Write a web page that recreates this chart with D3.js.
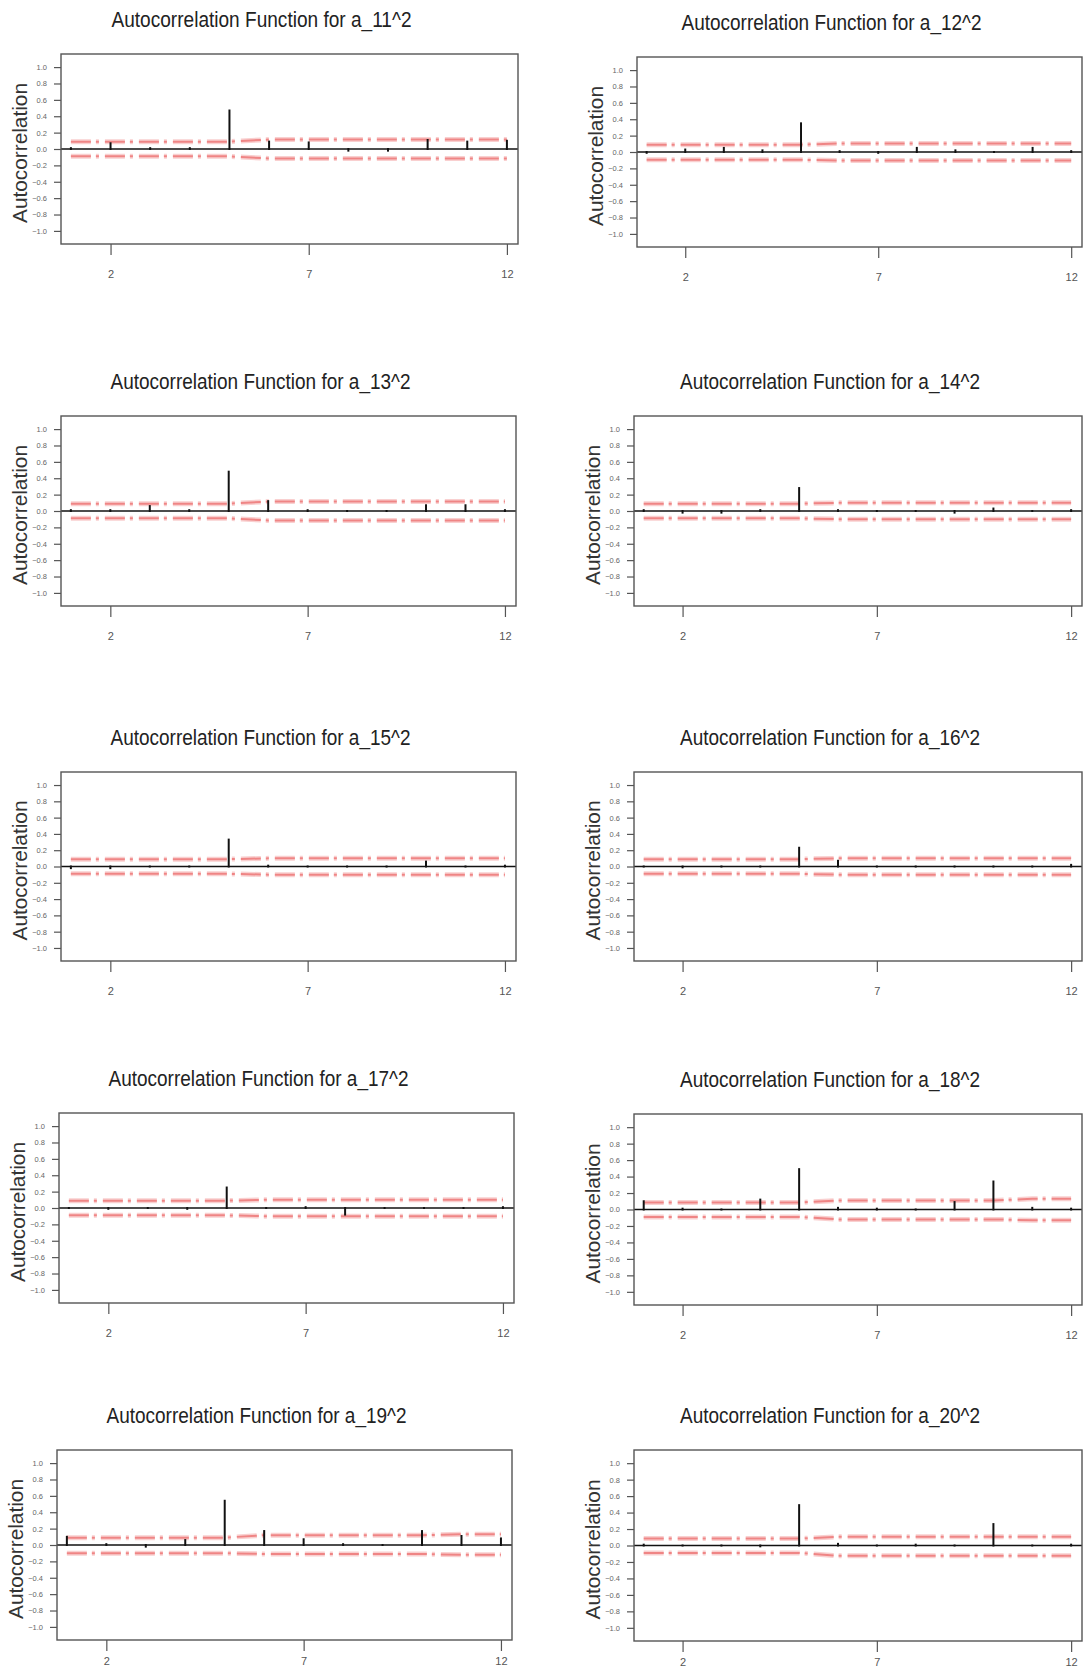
<!DOCTYPE html>
<html>
<head>
<meta charset="utf-8">
<script src="https://cdn.jsdelivr.net/npm/d3@7"></script>
<style>
  body { margin: 0; background: #fff; }
  svg { display: block; }
</style>
</head>
<body>
<script>
// lags and ticks
const lags = [1, 2, 3, 4, 5, 6, 7, 8, 9, 10, 11, 12]
const xTicks = [2, 7, 12]
const yTicks = [-1.0, -0.8, -0.6, -0.4, -0.2, 0.0, 0.2, 0.4, 0.6, 0.8, 1.0]
const seriesNames = ['a_11^2', 'a_12^2', 'a_13^2', 'a_14^2', 'a_15^2',
  'a_16^2', 'a_17^2', 'a_18^2', 'a_19^2', 'a_20^2']

// autocorrelations, lag 1..12
const acf11 = [0.01, 0.07, 0.01, 0.01, 0.47, 0.09, 0.08, -0.02, -0.02, 0.11, 0.09, 0.10]
const acf12 = [-0.01, 0.03, 0.05, 0.02, 0.35, 0.01, -0.01, 0.05, 0.02, 0.00, 0.05, 0.01]
const acf13 = [0.01, 0.01, 0.06, 0.01, 0.48, 0.12, 0.01, 0.00, 0.00, 0.07, 0.07, 0.01]
const acf14 = [0.01, -0.02, -0.02, 0.01, 0.28, 0.01, 0.00, 0.00, -0.02, 0.03, 0.00, 0.01]
const acf15 = [-0.02, -0.02, 0.00, 0.00, 0.33, 0.01, 0.00, 0.00, 0.00, 0.06, 0.00, 0.01]
const acf16 = [0.00, -0.01, 0.00, 0.00, 0.23, 0.07, 0.00, 0.00, 0.00, 0.00, 0.00, 0.02]
const acf17 = [0.00, -0.01, 0.00, -0.01, 0.25, 0.00, 0.01, -0.08, 0.00, 0.00, 0.00, 0.01]
const acf18 = [0.10, 0.01, 0.00, 0.12, 0.49, 0.02, 0.01, 0.00, 0.09, 0.34, 0.02, 0.01]
const acf19 = [0.10, 0.01, -0.02, 0.06, 0.54, 0.17, 0.07, 0.01, 0.00, 0.17, 0.11, 0.08]
const acf20 = [0.01, 0.00, 0.00, -0.01, 0.49, 0.02, 0.00, 0.01, 0.00, 0.26, 0.00, 0.01]

// upper / lower confidence bands per lag
const up11 = [0.09, 0.09, 0.09, 0.09, 0.09, 0.115, 0.115, 0.115, 0.115, 0.115, 0.115, 0.115]
const lo11 = [-0.09, -0.09, -0.09, -0.09, -0.09, -0.115, -0.115, -0.115, -0.115, -0.115, -0.115, -0.115]
const up12 = [0.09, 0.09, 0.09, 0.09, 0.09, 0.105, 0.105, 0.105, 0.105, 0.105, 0.105, 0.105]
const lo12 = [-0.095, -0.095, -0.095, -0.095, -0.095, -0.105, -0.105, -0.105, -0.105, -0.105, -0.105, -0.105]
const up13 = [0.09, 0.09, 0.09, 0.09, 0.09, 0.115, 0.115, 0.115, 0.115, 0.115, 0.115, 0.115]
const lo13 = [-0.09, -0.09, -0.09, -0.09, -0.09, -0.115, -0.115, -0.115, -0.115, -0.115, -0.115, -0.115]
const up14 = [0.09, 0.09, 0.09, 0.09, 0.09, 0.10, 0.10, 0.10, 0.10, 0.10, 0.10, 0.10]
const lo14 = [-0.09, -0.09, -0.09, -0.09, -0.09, -0.10, -0.10, -0.10, -0.10, -0.10, -0.10, -0.10]
const up15 = [0.09, 0.09, 0.09, 0.09, 0.09, 0.10, 0.10, 0.10, 0.10, 0.10, 0.10, 0.10]
const lo15 = [-0.09, -0.09, -0.09, -0.09, -0.09, -0.10, -0.10, -0.10, -0.10, -0.10, -0.10, -0.10]
const up16 = [0.09, 0.09, 0.09, 0.09, 0.09, 0.10, 0.10, 0.10, 0.10, 0.10, 0.10, 0.10]
const lo16 = [-0.09, -0.09, -0.09, -0.09, -0.09, -0.10, -0.10, -0.10, -0.10, -0.10, -0.10, -0.10]
const up17 = [0.09, 0.09, 0.09, 0.09, 0.09, 0.10, 0.10, 0.10, 0.10, 0.10, 0.10, 0.10]
const lo17 = [-0.09, -0.09, -0.09, -0.09, -0.09, -0.10, -0.10, -0.10, -0.10, -0.10, -0.10, -0.10]
const up18 = [0.085, 0.085, 0.085, 0.085, 0.085, 0.11, 0.11, 0.11, 0.11, 0.11, 0.13, 0.13]
const lo18 = [-0.09, -0.09, -0.09, -0.09, -0.09, -0.12, -0.12, -0.12, -0.12, -0.12, -0.13, -0.13]
const up19 = [0.09, 0.09, 0.09, 0.09, 0.09, 0.12, 0.12, 0.12, 0.12, 0.12, 0.13, 0.13]
const lo19 = [-0.10, -0.10, -0.10, -0.10, -0.10, -0.11, -0.11, -0.11, -0.11, -0.11, -0.12, -0.12]
const up20 = [0.085, 0.085, 0.085, 0.085, 0.085, 0.105, 0.105, 0.105, 0.105, 0.105, 0.105, 0.105]
const lo20 = [-0.09, -0.09, -0.09, -0.09, -0.09, -0.125, -0.125, -0.125, -0.125, -0.125, -0.125, -0.125]

const acfs = [acf11, acf12, acf13, acf14, acf15, acf16, acf17, acf18, acf19, acf20]
const ups = [up11, up12, up13, up14, up15, up16, up17, up18, up19, up20]
const los = [lo11, lo12, lo13, lo14, lo15, lo16, lo17, lo18, lo19, lo20]

// plot frames (the scanned page is slightly skewed); pad = gap to the lag labels
const frames = [
  { x0: 61, x1: 518, y0: 54, y1: 244, pad: 15 },
  { x0: 637, x1: 1082, y0: 57, y1: 247, pad: 15 },
  { x0: 61, x1: 516, y0: 416, y1: 606, pad: 15 },
  { x0: 634, x1: 1082, y0: 416, y1: 606, pad: 15 },
  { x0: 61, x1: 516, y0: 772, y1: 961, pad: 15 },
  { x0: 634, x1: 1082, y0: 772, y1: 961, pad: 15 },
  { x0: 59, x1: 514, y0: 1113, y1: 1303, pad: 15 },
  { x0: 634, x1: 1082, y0: 1114, y1: 1305, pad: 15 },
  { x0: 57, x1: 512, y0: 1450, y1: 1640, pad: 6 },
  { x0: 634, x1: 1082, y0: 1450, y1: 1641, pad: 6 }
]

const W = 1083
const H = 1673
const narrow = "'Liberation Sans Narrow', 'Arial Narrow', 'Liberation Sans', Arial, sans-serif"
const sans = "'Liberation Sans', Arial, sans-serif"

const svg = d3.select('body').append('svg')
  .attr('width', W)
  .attr('height', H)

svg.append('rect').attr('width', W).attr('height', H).attr('fill', '#fff')

const drawPanel = (i) => {
  const f = frames[i]
  const acf = acfs[i]
  const g = svg.append('g')

  const x = d3.scaleLinear().domain([0.75, 12.28]).range([f.x0, f.x1])
  const y = d3.scaleLinear().domain([-1.16, 1.16]).range([f.y1, f.y0])

  // title
  g.append('text')
    .attr('x', (f.x0 + f.x1) / 2 - 28)
    .attr('y', f.y0 - 27)
    .attr('text-anchor', 'middle')
    .attr('font-family', sans)
    .attr('font-size', 22)
    .attr('textLength', 300)
    .attr('lengthAdjust', 'spacingAndGlyphs')
    .attr('fill', '#222')
    .text('Autocorrelation Function for ' + seriesNames[i])

  // y label
  g.append('text')
    .attr('transform', `translate(${f.x0 - 42},${(f.y0 + f.y1) / 2 + 4}) rotate(-90)`)
    .attr('text-anchor', 'middle')
    .attr('dominant-baseline', 'central')
    .attr('font-family', sans)
    .attr('font-size', 20.5)
    .attr('textLength', 140)
    .attr('lengthAdjust', 'spacingAndGlyphs')
    .attr('fill', '#333')
    .text('Autocorrelation')

  // y axis
  const ya = g.append('g')
    .attr('transform', `translate(${f.x0},0)`)
    .call(d3.axisLeft(y).tickValues(yTicks).tickSize(7).tickPadding(7)
      .tickFormat(d3.format('.1f')))
  ya.select('.domain').remove()
  ya.selectAll('line').attr('stroke', '#555').attr('stroke-width', 1.2)
  ya.selectAll('text')
    .attr('font-family', narrow)
    .attr('font-size', 7.5)
    .attr('fill', '#666')

  // x axis
  const xa = g.append('g')
    .attr('transform', `translate(0,${f.y1})`)
    .call(d3.axisBottom(x).tickValues(xTicks).tickSize(11).tickPadding(f.pad)
      .tickFormat(d3.format('d')))
  xa.select('.domain').remove()
  xa.selectAll('line').attr('stroke', '#555').attr('stroke-width', 1.2)
  xa.selectAll('text')
    .attr('font-family', narrow)
    .attr('font-size', 11)
    .attr('fill', '#555')

  // confidence bands
  const band = d3.line()
    .x((d, k) => x(lags[k]))
    .y(d => y(d))
  for (const b of [ups[i], los[i]]) {
    g.append('path')
      .attr('d', band(b))
      .attr('fill', 'none')
      .attr('stroke', '#f9d0d0')
      .attr('stroke-width', 5)
      .attr('stroke-dasharray', '20,5,3,6')
    g.append('path')
      .attr('d', band(b))
      .attr('fill', 'none')
      .attr('stroke', '#ef8585')
      .attr('stroke-width', 2)
      .attr('stroke-dasharray', '20,5,3,6')
  }

  // zero line
  g.append('line')
    .attr('x1', f.x0).attr('x2', f.x1)
    .attr('y1', y(0)).attr('y2', y(0))
    .attr('stroke', '#111')
    .attr('stroke-width', 1.6)

  // stems
  g.selectAll('.stem')
    .data(acf)
    .enter().append('line')
    .attr('class', 'stem')
    .attr('x1', (d, k) => x(lags[k]))
    .attr('x2', (d, k) => x(lags[k]))
    .attr('y1', y(0))
    .attr('y2', d => y(d))
    .attr('stroke', '#111')
    .attr('stroke-width', 2)
    .attr('stroke-linecap', 'square')

  // frame
  g.append('rect')
    .attr('x', f.x0).attr('y', f.y0)
    .attr('width', f.x1 - f.x0).attr('height', f.y1 - f.y0)
    .attr('fill', 'none')
    .attr('stroke', '#555')
    .attr('stroke-width', 1.4)
}

acfs.forEach((d, i) => drawPanel(i))
</script>
</body>
</html>
